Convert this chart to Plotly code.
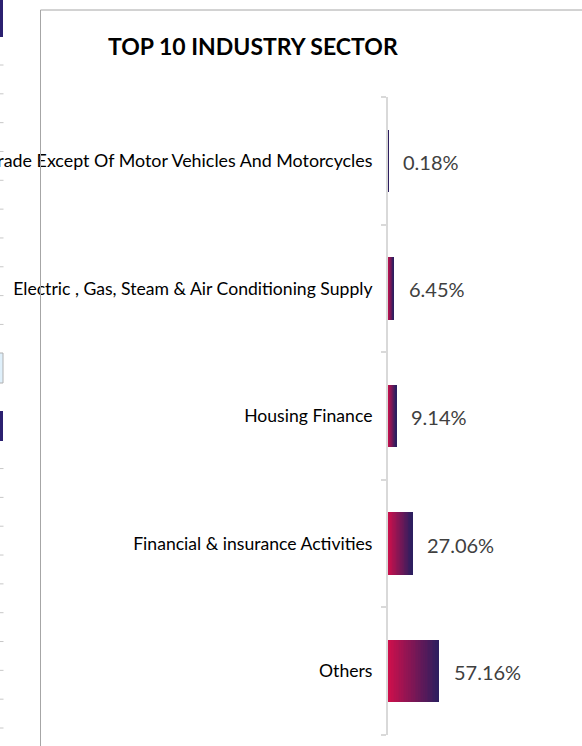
import plotly.graph_objects as go

# ---- data ----
categories = [
    "Trade Except Of Motor Vehicles And Motorcycles",
    "Electric , Gas, Steam & Air Conditioning Supply",
    "Housing Finance",
    "Financial & insurance Activities",
    "Others",
]
values = [0.18, 6.45, 9.14, 27.06, 57.16]
value_labels = ["0.18%", "6.45%", "9.14%", "27.06%", "57.16%"]
title_text = "TOP 10 INDUSTRY SECTOR"

# ---- style ----
W, H = 582, 746
ML, MR, MT, MB = 388, 105, 97, 11
PW = W - ML - MR
PH = H - MT - MB
c_start = (0xD1, 0x0F, 0x4B)
c_end = (0x2A, 0x1E, 0x5F)
N_SEG = 30


def lerp(a, b, t):
    return tuple(round(a[i] + (b[i] - a[i]) * t) for i in range(3))


fig = go.Figure()
for k in range(N_SEG):
    t = (k + 0.5) / N_SEG
    r, g, b = lerp(c_start, c_end, t)
    fig.add_trace(go.Bar(
        y=categories,
        x=[v / N_SEG for v in values],
        orientation="h",
        marker=dict(color=f"rgb({r},{g},{b})", line=dict(width=0)),
        hoverinfo="skip",
        showlegend=False,
    ))

for cat, v, lab in zip(categories, values, value_labels):
    fig.add_annotation(
        x=v, y=cat, xref="x", yref="y", text=lab, showarrow=False,
        xanchor="left", yanchor="middle", xshift=13, yshift=-1,
        font=dict(family="Lato", size=20, color="#404040"),
    )


def px_x(p):
    return (p - ML) / PW


def px_y(p):
    return 1 - (p - MT) / PH


shapes = []
# card border (top and left)
shapes.append(dict(type="line", xref="paper", yref="paper",
                   x0=px_x(40.5), x1=px_x(W + 5), y0=px_y(10), y1=px_y(10),
                   line=dict(color="#a6a6a6", width=1)))
shapes.append(dict(type="line", xref="paper", yref="paper",
                   x0=px_x(40.5), x1=px_x(40.5), y0=px_y(10), y1=px_y(H + 5),
                   line=dict(color="#a6a6a6", width=1)))
# fragments of the neighbouring chart at the left edge
step = (728 - 65) / 23
for k in range(24):
    yy = 65 + k * step
    if 340 < yy < 450:
        continue
    shapes.append(dict(type="line", xref="paper", yref="paper",
                       x0=px_x(0), x1=px_x(3.5), y0=px_y(yy), y1=px_y(yy),
                       line=dict(color="#c8c8c8", width=1)))
shapes.append(dict(type="rect", xref="paper", yref="paper",
                   x0=px_x(-2), x1=px_x(3), y0=px_y(-2), y1=px_y(37),
                   fillcolor="#2b2070", line=dict(width=0)))
shapes.append(dict(type="rect", xref="paper", yref="paper",
                   x0=px_x(-2), x1=px_x(3), y0=px_y(353), y1=px_y(383),
                   fillcolor="#dff0fb", line=dict(color="#b0b0b0", width=1)))
shapes.append(dict(type="rect", xref="paper", yref="paper",
                   x0=px_x(-2), x1=px_x(3), y0=px_y(411), y1=px_y(441),
                   fillcolor="#2b2070", line=dict(width=0)))

# tick texts: the first (long) label is drawn a touch larger, as in the reference
tick_text = [f'<span style="font-size:17.85px">{categories[0]}</span>'] + categories[1:]

fig.update_layout(
    width=W, height=H,
    margin=dict(l=ML, r=MR, t=MT, b=MB, autoexpand=False),
    paper_bgcolor="white", plot_bgcolor="white",
    barmode="stack", bargap=0.51,
    font=dict(family="Lato", color="#000000"),
    title=dict(text=f"<b>{title_text}</b>", xref="container", yref="container",
               x=108 / W, xanchor="left", y=1 - 47 / H, yanchor="middle",
               font=dict(family="Lato", size=23, color="#000000")),
    xaxis=dict(range=[0, 100], visible=False, fixedrange=True),
    yaxis=dict(
        type="category", categoryorder="array", categoryarray=categories,
        tickmode="array", tickvals=categories, ticktext=tick_text,
        autorange="reversed", showline=True, linecolor="#d9d9d9", linewidth=2,
        ticks="outside", tickson="boundaries", ticklen=5, tickcolor="#d9d9d9",
        tickwidth=2, showgrid=False, zeroline=False, fixedrange=True,
        tickfont=dict(family="Lato", size=17.6, color="#000000"),
        ticklabelstandoff=10,
    ),
    shapes=shapes,
)

fig.write_html(
    "out.html",
    config={"displayModeBar": False},
    post_script="document.body.style.margin='0';document.body.style.overflow='hidden';",
)
